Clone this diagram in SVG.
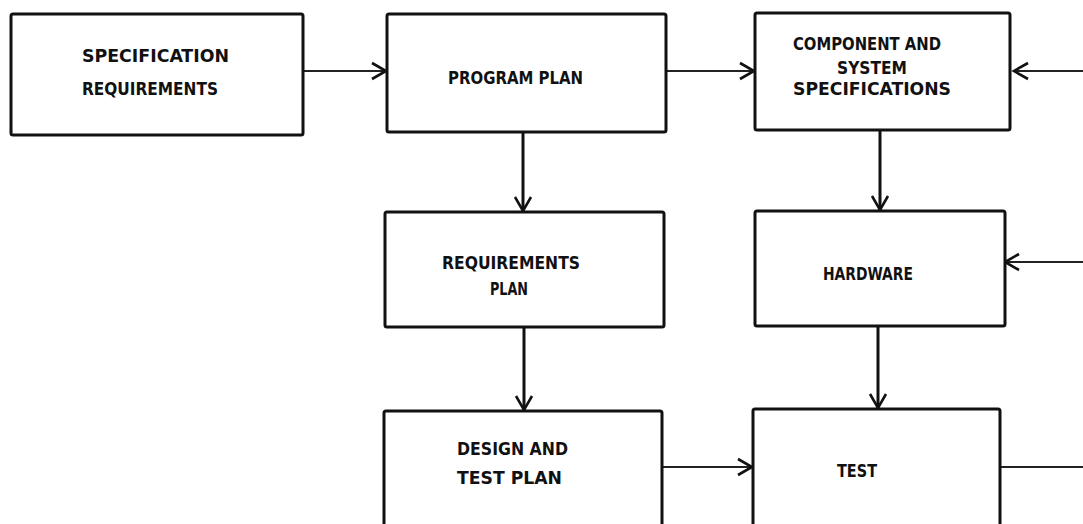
<svg xmlns="http://www.w3.org/2000/svg" width="1083" height="524" viewBox="0 0 1083 524">
<style>
.box{fill:#fff;stroke:#111;stroke-width:3}
.lbl{font-family:"DejaVu Sans Condensed","Liberation Sans",Arial,sans-serif;font-stretch:condensed;font-weight:bold;font-size:18px;fill:#111}
.h{stroke:#222;stroke-width:1.8;fill:none}
.v{stroke:#111;stroke-width:3;fill:none}
</style>
<defs>
<marker id="arr" markerUnits="userSpaceOnUse" markerWidth="20" markerHeight="20" viewBox="-16 -10 18 20" refX="0" refY="0" orient="auto">
<path d="M-14,-8 L0,0 L-14,8" fill="none" stroke="#111" stroke-width="2.6"/>
</marker>
</defs>
<rect width="1083" height="524" fill="#fff"/>
<g id="connectors">
<line class="h" x1="303" y1="71" x2="386" y2="71" marker-end="url(#arr)"/>
<line class="h" x1="666" y1="71" x2="754" y2="71" marker-end="url(#arr)"/>
<line class="h" x1="1083" y1="71" x2="1014" y2="71" marker-end="url(#arr)"/>
<line class="v" x1="523" y1="132" x2="523" y2="211" marker-end="url(#arr)"/>
<line class="v" x1="880" y1="130" x2="880" y2="210" marker-end="url(#arr)"/>
<line class="h" x1="1083" y1="262" x2="1005" y2="262" marker-end="url(#arr)"/>
<line class="v" x1="524" y1="327" x2="524" y2="410" marker-end="url(#arr)"/>
<line class="v" x1="878" y1="326" x2="878" y2="408" marker-end="url(#arr)"/>
<line class="h" x1="662" y1="467" x2="752" y2="467" marker-end="url(#arr)"/>
<line class="h" x1="1000" y1="467" x2="1083" y2="467"/>
</g>
<g id="spec-req">
<rect class="box" x="11" y="14" width="292" height="121" rx="2"/>
<text class="lbl" x="82" y="62" textLength="147" lengthAdjust="spacingAndGlyphs">SPECIFICATION</text>
<text class="lbl" x="82" y="95" textLength="136" lengthAdjust="spacingAndGlyphs">REQUIREMENTS</text>
</g>
<g id="program-plan">
<rect class="box" x="387" y="14" width="279" height="118" rx="2"/>
<text class="lbl" x="448" y="84" textLength="135" lengthAdjust="spacingAndGlyphs">PROGRAM PLAN</text>
</g>
<g id="comp-sys-spec">
<rect class="box" x="755" y="13" width="255" height="117" rx="2"/>
<text class="lbl" x="793" y="50" textLength="148" lengthAdjust="spacingAndGlyphs">COMPONENT AND</text>
<text class="lbl" x="837" y="74" textLength="70" lengthAdjust="spacingAndGlyphs">SYSTEM</text>
<text class="lbl" x="793" y="95" textLength="158" lengthAdjust="spacingAndGlyphs">SPECIFICATIONS</text>
</g>
<g id="req-plan">
<rect class="box" x="385" y="212" width="279" height="115" rx="2"/>
<text class="lbl" x="442" y="269" textLength="138" lengthAdjust="spacingAndGlyphs">REQUIREMENTS</text>
<text class="lbl" x="490" y="295" textLength="38" lengthAdjust="spacingAndGlyphs">PLAN</text>
</g>
<g id="hardware">
<rect class="box" x="755" y="211" width="250" height="115" rx="2"/>
<text class="lbl" x="823" y="280" textLength="90" lengthAdjust="spacingAndGlyphs">HARDWARE</text>
</g>
<g id="design-test-plan">
<rect class="box" x="384" y="411" width="278" height="130" rx="2"/>
<text class="lbl" x="457" y="455" textLength="111" lengthAdjust="spacingAndGlyphs">DESIGN AND</text>
<text class="lbl" x="457" y="484" textLength="105" lengthAdjust="spacingAndGlyphs">TEST PLAN</text>
</g>
<g id="test">
<rect class="box" x="753" y="409" width="247" height="130" rx="2"/>
<text class="lbl" x="837" y="477" textLength="40" lengthAdjust="spacingAndGlyphs">TEST</text>
</g>
</svg>
